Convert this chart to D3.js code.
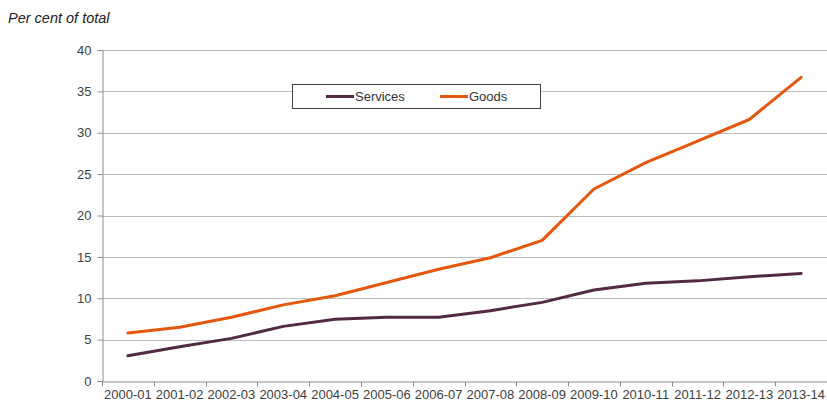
<!DOCTYPE html>
<html>
<head>
<meta charset="utf-8">
<script src="https://cdn.jsdelivr.net/npm/d3@7"></script>
<style>
  html, body { margin: 0; padding: 0; background: #fff; }
  svg { display: block; font-family: "Liberation Sans", Arial, sans-serif; }
</style>
</head>
<body>
<svg id="chart" width="827" height="401"></svg>
<script>
// Share of total by financial year
const years = ["2000-01","2001-02","2002-03","2003-04","2004-05","2005-06","2006-07",
               "2007-08","2008-09","2009-10","2010-11","2011-12","2012-13","2013-14"];
const services = [3.05, 4.15, 5.15, 6.6, 7.45, 7.7, 7.7, 8.5, 9.5, 11.0, 11.8, 12.1, 12.6, 13.0];
const goods    = [5.8, 6.5, 7.7, 9.2, 10.3, 11.9, 13.5, 14.9, 17.0, 23.2, 26.4, 29.0, 31.6, 36.7];
const yTicks = [0, 5, 10, 15, 20, 25, 30, 35, 40];

const seriesList = [
  { name: "Services", values: services, color: "#532a43" },
  { name: "Goods",    values: goods,    color: "#e4570c" }
];

const svg = d3.select("#chart");
const margin = { left: 102, right: 0, top: 50, bottom: 20 };
const W = 827, H = 401;
const plotBottom = 381;

const x = d3.scaleBand().domain(years).range([margin.left, W - margin.right]);
const y = d3.scaleLinear().domain([0, 40]).range([plotBottom, margin.top]);

// Horizontal gridlines
svg.append("g")
  .selectAll("line")
  .data(yTicks.filter(d => d > 0))
  .join("line")
  .attr("x1", margin.left).attr("x2", W)
  .attr("y1", d => Math.round(y(d)) + 0.5).attr("y2", d => Math.round(y(d)) + 0.5)
  .attr("stroke", "#bdbdbd").attr("stroke-width", 1);

// Y axis
const yAxis = svg.append("g")
  .attr("transform", `translate(${margin.left + 0.5},0)`)
  .call(d3.axisLeft(y).tickValues(yTicks).tickSize(5).tickPadding(6));
yAxis.select(".domain").attr("stroke", "#8c8c8c");
yAxis.selectAll(".tick line").attr("stroke", "#8c8c8c");
yAxis.selectAll(".tick text")
  .attr("font-size", "13px").attr("fill", "#404040")
  .attr("font-family", "Liberation Sans, Arial, sans-serif");

// X axis with ticks between categories
const xAxis = svg.append("g")
  .attr("transform", `translate(0,${plotBottom + 0.5})`)
  .call(d3.axisBottom(x).tickSize(0).tickPadding(8));
xAxis.select(".domain").attr("stroke", "#8c8c8c");
xAxis.selectAll(".tick text")
  .attr("font-size", "13px").attr("fill", "#404040")
  .attr("font-family", "Liberation Sans, Arial, sans-serif");
xAxis.append("g")
  .selectAll("line")
  .data(years)
  .join("line")
  .attr("x1", d => Math.round(x(d)) + 0.5).attr("x2", d => Math.round(x(d)) + 0.5)
  .attr("y1", 0).attr("y2", 5)
  .attr("stroke", "#8c8c8c");

// Series lines
const line = d3.line()
  .x((d, i) => x(years[i]) + x.bandwidth() / 2)
  .y(d => y(d));

svg.append("g")
  .selectAll("path")
  .data(seriesList)
  .join("path")
  .attr("d", s => line(s.values))
  .attr("fill", "none")
  .attr("stroke", s => s.color)
  .attr("stroke-width", 3)
  .attr("stroke-linejoin", "round")
  .attr("stroke-linecap", "round");

// Legend
const legend = svg.append("g");
legend.append("rect")
  .attr("x", 292.5).attr("y", 84.5).attr("width", 248).attr("height", 24)
  .attr("fill", "#fff").attr("stroke", "#404040").attr("stroke-width", 1);
const legendItems = [
  { s: seriesList[0], x0: 326 },
  { s: seriesList[1], x0: 440 }
];
legendItems.forEach(it => {
  legend.append("line")
    .attr("x1", it.x0).attr("x2", it.x0 + 28)
    .attr("y1", 96.5).attr("y2", 96.5)
    .attr("stroke", it.s.color).attr("stroke-width", 3);
  legend.append("text")
    .attr("x", it.x0 + 29).attr("y", 101)
    .attr("font-size", "13px").attr("fill", "#333")
    .text(it.s.name);
});

// Unit label
svg.append("text")
  .attr("x", 8).attr("y", 23)
  .attr("font-size", "14.5px").attr("font-style", "italic").attr("fill", "#222")
  .text("Per cent of total");
</script>
</body>
</html>
